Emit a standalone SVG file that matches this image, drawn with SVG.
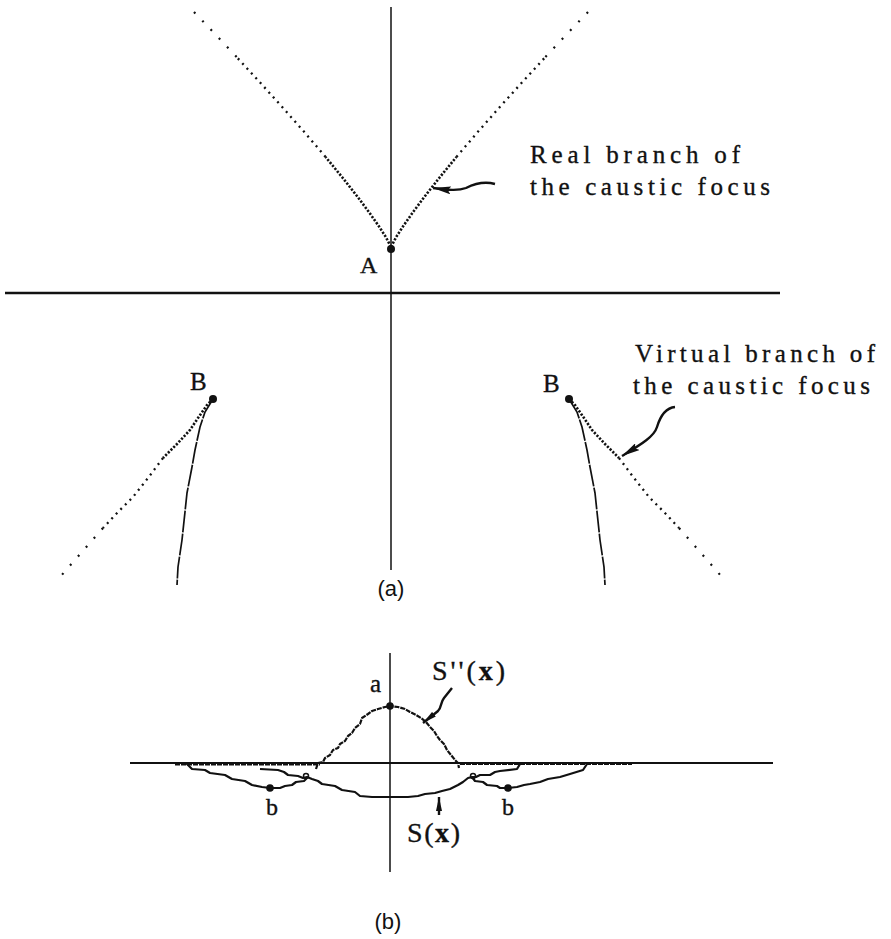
<svg xmlns="http://www.w3.org/2000/svg" width="891" height="939" viewBox="0 0 891 939">
<style>
.bg{fill:#fff}
.axis{stroke:#111;stroke-width:1.5;fill:none}
.axisH{stroke:#111;stroke-width:2.6;fill:none}
.dotIn{stroke:#111;stroke-width:2.6;fill:none;stroke-dasharray:2.2 1.6}
.dotMid{stroke:#111;stroke-width:2.3;fill:none;stroke-dasharray:2 4.5}
.dotOut{stroke:#111;stroke-width:2.2;fill:none;stroke-dasharray:2 10}
.solidc{stroke:#111;stroke-width:1.7;fill:none;stroke-dasharray:22 1.2}
.curve{stroke:#111;stroke-width:2.2;fill:none;stroke-linejoin:round;stroke-dasharray:5 1}
.curveS{stroke:#111;stroke-width:2.2;fill:none;stroke-linejoin:round}
.arrow{stroke:#111;stroke-width:2.4;fill:none}
.pt{fill:#111}
.lbl{font-family:"Liberation Serif","Times New Roman",serif;fill:#111;stroke:#111;stroke-width:0.35}
.cap{font-family:"Liberation Sans",Arial,sans-serif;fill:#111;font-size:22px}
</style>
<defs>
<marker id="ah" viewBox="0 0 18 8" refX="18" refY="4" markerWidth="18" markerHeight="8" markerUnits="userSpaceOnUse" orient="auto">
<path d="M0,0 L18,4 L0,8 L3,4 z" fill="#111"/>
</marker>
<marker id="ahs" viewBox="0 0 14 6" refX="14" refY="3" markerWidth="14" markerHeight="6" markerUnits="userSpaceOnUse" orient="auto">
<path d="M0,0 L14,3 L0,6 z" fill="#111"/>
</marker>
</defs>
<rect class="bg" x="0" y="0" width="891" height="939"/>

<g id="axes-a">
<line class="axis" x1="391" y1="7" x2="391" y2="570"/>
<line class="axisH" x1="5" y1="293" x2="780" y2="293"/>
</g>

<g id="real-branch">
<path class="dotIn" d="M391,247 L385.8,237 L379.4,227 L368.9,212 L357.7,197 L342,177 L325.6,157"/>
<path class="dotMid" d="M325.6,157 L304.3,132 L282.2,107 L259.6,82 L236.6,57"/>
<path class="dotOut" d="M236.6,57 L216,35 L194,12"/>
<path class="dotIn" d="M391,247 L396.2,237 L402.6,227 L413.1,212 L424.3,197 L440,177 L456.4,157"/>
<path class="dotMid" d="M456.4,157 L477.7,132 L499.8,107 L522.4,82 L545.4,57"/>
<path class="dotOut" d="M545.4,57 L566,35 L588,12"/>
</g>

<g id="point-A">
<circle class="pt" cx="391" cy="249" r="4"/>
<text class="lbl" x="360" y="273" font-size="24">A</text>
</g>

<g id="virtual-left">
<path class="dotIn" d="M213,399 L207,405 L198,418 L190,430 L177,444 L163,458"/>
<path class="dotMid" d="M163,458 L148,478 L133,497 L118,512 L103,528"/>
<path class="dotOut" d="M103,528 L82,552 L60,577"/>
<path class="solidc" d="M213,399 L205,412 L200,427 L195,450 L192,467 L187,493 L182,540 L178,567 L177,585"/>
<circle class="pt" cx="213" cy="399" r="4"/>
<text class="lbl" x="190" y="390" font-size="25">B</text>
</g>

<g id="virtual-right">
<path class="dotIn" d="M569,399 L575,405 L584,418 L592,430 L605,444 L619,458"/>
<path class="dotMid" d="M619,458 L634,478 L649,497 L664,512 L679,528"/>
<path class="dotOut" d="M679,528 L700,552 L722,577"/>
<path class="solidc" d="M569,399 L577,412 L582,427 L587,450 L590,467 L595,493 L600,540 L604,567 L605,585"/>
<circle class="pt" cx="569" cy="399" r="4"/>
<text class="lbl" x="543" y="392" font-size="25">B</text>
</g>

<g id="label-real">
<text class="lbl" x="530" y="163" font-size="25" textLength="210" lengthAdjust="spacing">Real branch of</text>
<text class="lbl" x="530" y="195" font-size="25" textLength="240" lengthAdjust="spacing">the caustic focus</text>
</g>

<g id="label-virtual">
<text class="lbl" x="635" y="362" font-size="25" textLength="240" lengthAdjust="spacing">Virtual branch of</text>
<text class="lbl" x="633" y="394" font-size="25" textLength="237" lengthAdjust="spacing">the caustic focus</text>
</g>

<g id="caption-a">
<text class="cap" x="391" y="596" text-anchor="middle">(a)</text>
</g>

<g id="axes-b">
<line class="axis" x1="390" y1="653" x2="390" y2="872"/>
<line class="axisH" x1="130" y1="763" x2="773" y2="763" style="stroke-width:2.2"/>
<path class="curve" d="M175,764.5 L320,764.5 M460,764 L632,764"/>
</g>

<g id="curve-Spp">
<path class="curve" d="M316,769 L318,763 L323,762 L325,758 L330,755 L333,750 L338,748 L340,744 L345,741 L348,736 L352,733 L355,728 L360,724 L362,718 L368,714 L372,711 L378,709 L385,707 L390,706 L398,707 L405,709 L410,712 L416,715 L421,718 L426,722 L430,727 L434,731 L437,736 L440,740 L444,744 L447,750 L451,755 L455,760 L458,763 L459,768"/>
<circle class="pt" cx="390" cy="706" r="3.8"/>
<text class="lbl" x="370" y="692" font-size="25">a</text>
</g>

<g id="curve-S">
<path class="curveS" d="M186,763 L192,769 L205,770 L210,773 L225,775 L232,779 L245,781 L252,785 L262,787 L270,788 L280,788 L285,786 L292,785 L296,782 L304,781 L307,778"/>
<path class="curveS" d="M260,769 L278,770 L284,772 L288,775 L298,776 L303,778 L307,777 L312,779 L318,781 L322,784 L335,786 L342,790 L355,792 L360,796 L372,797 L408,797 L418,796 L425,794 L435,793 L442,791 L450,789 L458,785 L463,782 L468,778 L472,777 L476,777 L480,775 L490,775 L495,772 L500,771 L517,769 L520,764"/>
<path class="curveS" d="M472,777 L475,781 L483,782 L487,785 L497,786 L500,788 L508,788 L517,787 L524,785 L530,784 L540,782 L548,779 L560,777 L570,774 L583,770 L587,764"/>
<circle class="curveS" cx="306" cy="776" r="2.5" style="stroke-width:1.5"/>
<circle class="curveS" cx="473" cy="776" r="2.5" style="stroke-width:1.5"/>
<circle class="pt" cx="270" cy="788" r="3.8"/>
<circle class="pt" cx="508" cy="788" r="3.8"/>
<text class="lbl" x="266" y="815" font-size="24">b</text>
<text class="lbl" x="502" y="815" font-size="24">b</text>
</g>

<g id="label-Spp">
<text class="lbl" x="432" y="680" font-size="28" textLength="73" lengthAdjust="spacing">S''(<tspan font-weight="bold">x</tspan>)</text>
</g>
<g id="label-S">
<text class="lbl" x="407" y="842" font-size="28" textLength="53" lengthAdjust="spacing">S(<tspan font-weight="bold">x</tspan>)</text>
</g>

<g id="caption-b">
<text class="cap" x="388" y="929" text-anchor="middle">(b)</text>
</g>

<g id="connectors">
<path class="arrow" d="M495,184 C484,181 474,184 466,188 C458,191 448,190 433,188" marker-end="url(#ah)"/>
<path class="arrow" d="M675,407 C665,408 660,417 657,427 C654,437 640,445 622,456" marker-end="url(#ah)"/>
<path class="arrow" d="M452,688 L444,698 C440,703 442,707 438,711 L423,723" marker-end="url(#ahs)"/>
<path class="arrow" d="M439,815 L439,797" marker-end="url(#ahs)"/>
</g>
</svg>
